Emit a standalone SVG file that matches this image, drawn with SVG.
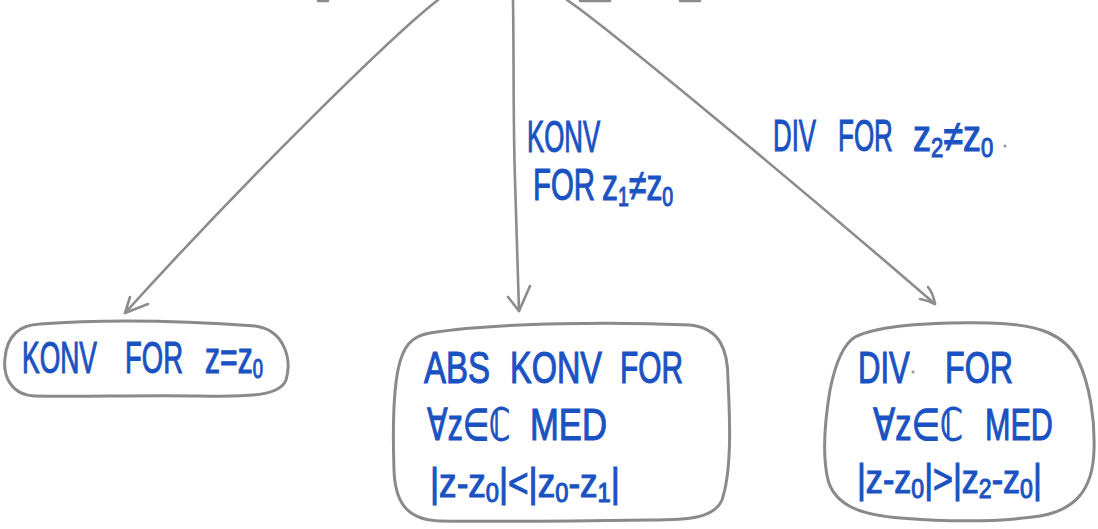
<svg xmlns="http://www.w3.org/2000/svg" width="1098" height="529" viewBox="0 0 1098 529">
  <style>
    .hand { font-family: "Liberation Sans", "DejaVu Sans", sans-serif; font-size: 44px; fill: #1b52c2; stroke: #1b52c2; stroke-width: 1.1; }
    .small { font-size: 40px; }
    .sub { font-size: 27px; }
    .edge { fill: none; stroke: #8c8c8c; stroke-width: 2.6; stroke-linecap: round; stroke-linejoin: round; }
    .box { fill: #ffffff; stroke: #8a8a8a; stroke-width: 3; }
    .speck { fill: #9a9a9a; }
  </style>
  <rect width="1098" height="529" fill="#ffffff"/>

  <!-- stray marks along the top edge -->
  <g id="top-marks" class="edge">
    <path d="M 318,1 L 328,1"/>
    <path d="M 580,1 L 610,1"/>
    <path d="M 680,1 L 700,1"/>
  </g>

  <g id="connectors">
    <!-- left: to KONV FOR z=z0 -->
    <path class="edge" d="M 438,0 C 395,33 250,175 125,313"/>
    <path class="edge" d="M 130,297 L 125,313 L 148,304"/>
    <!-- middle: to ABS KONV -->
    <path class="edge" d="M 513,0 C 514,60 513,120 515,180 C 517,240 518,280 519,311"/>
    <path class="edge" d="M 508,297 L 519,311 L 530,286"/>
    <!-- right: to DIV -->
    <path class="edge" d="M 567,0 C 600,22 780,170 935,304"/>
    <path class="edge" d="M 920,299 C 926,300 931,302 935,304 C 934,298 932,292 928,287"/>
  </g>

  <!-- lettering is narrow, so each word is squeezed horizontally -->
  <g id="edge-labels">
    <text class="hand" transform="translate(527,152) scale(0.59,1)" textLength="124" lengthAdjust="spacingAndGlyphs">KONV</text>
    <text class="hand" transform="translate(533,200) scale(0.66,1)" textLength="94" lengthAdjust="spacingAndGlyphs">FOR</text>
    <text class="hand" transform="translate(602,200) scale(0.72,1)" textLength="99" lengthAdjust="spacingAndGlyphs">z<tspan class="sub" dy="6">1</tspan><tspan dy="-6">≠z</tspan><tspan class="sub" dy="6">0</tspan></text>
    <text class="hand" transform="translate(773,151) scale(0.59,1)" textLength="73" lengthAdjust="spacingAndGlyphs">DIV</text>
    <text class="hand" transform="translate(838,151) scale(0.59,1)" textLength="93" lengthAdjust="spacingAndGlyphs">FOR</text>
    <text class="hand" transform="translate(913,151) scale(0.81,1)" textLength="99" lengthAdjust="spacingAndGlyphs">z<tspan class="sub" dy="6">2</tspan><tspan dy="-6">≠z</tspan><tspan class="sub" dy="6">0</tspan></text>
    <circle class="speck" cx="1005" cy="146" r="1.6"/>
  </g>

  <g id="node-konv">
    <path class="box" d="M 40,324 C 120,318 200,322 255,326 C 285,330 292,360 286,380 C 280,396 250,397 200,396 C 140,395 80,397 35,396 C 10,395 3,375 5,358 C 7,335 20,325 40,324 Z"/>
    <text class="hand" transform="translate(22,373) scale(0.6,1)" textLength="125" lengthAdjust="spacingAndGlyphs">KONV</text>
    <text class="hand" transform="translate(125,373) scale(0.62,1)" textLength="93.5" lengthAdjust="spacingAndGlyphs">FOR</text>
    <text class="hand" transform="translate(205,373) scale(0.69,1)" textLength="84" lengthAdjust="spacingAndGlyphs">z=z<tspan class="sub" dy="5">0</tspan></text>
  </g>

  <g id="node-abs-konv">
    <path class="box" d="M 430,333 C 500,322 620,322 690,325 C 720,328 728,350 728,380 C 730,420 732,470 722,500 C 714,518 690,520 650,520 C 580,521 500,522 440,521 C 405,520 395,500 394,470 C 393,440 392,400 398,370 C 403,345 412,336 430,333 Z"/>
    <text class="hand" transform="translate(424,383) scale(0.75,1)" textLength="88" lengthAdjust="spacingAndGlyphs">ABS</text>
    <text class="hand" transform="translate(510,383) scale(0.74,1)" textLength="124.3" lengthAdjust="spacingAndGlyphs">KONV</text>
    <text class="hand" transform="translate(620,383) scale(0.68,1)" textLength="92.6" lengthAdjust="spacingAndGlyphs">FOR</text>
    <text class="hand" transform="translate(427,440) scale(0.77,1)" textLength="108" lengthAdjust="spacingAndGlyphs">∀z∈ℂ</text>
    <text class="hand" transform="translate(530,440) scale(0.79,1)" textLength="97.5" lengthAdjust="spacingAndGlyphs">MED</text>
    <text class="hand small" transform="translate(430,497) scale(0.9,1)" textLength="211" lengthAdjust="spacingAndGlyphs">|z-z<tspan class="sub" dy="5">0</tspan><tspan dy="-5">|&lt;|z</tspan><tspan class="sub" dy="5">0</tspan><tspan dy="-5">-z</tspan><tspan class="sub" dy="5">1</tspan><tspan dy="-5">|</tspan></text>
  </g>

  <g id="node-div">
    <path class="box" d="M 855,337 C 880,325 930,322 990,323 C 1040,324 1065,335 1078,360 C 1090,385 1095,420 1094,450 C 1093,490 1075,510 1040,516 C 1000,522 950,522 900,518 C 860,515 835,505 828,480 C 822,455 825,420 830,390 C 835,365 842,345 855,337 Z"/>
    <text class="hand" transform="translate(858,383) scale(0.71,1)" textLength="73" lengthAdjust="spacingAndGlyphs">DIV</text>
    <circle class="speck" cx="913" cy="372" r="1.6"/>
    <text class="hand" transform="translate(945,383) scale(0.73,1)" textLength="93" lengthAdjust="spacingAndGlyphs">FOR</text>
    <text class="hand" transform="translate(873,440) scale(0.83,1)" textLength="108" lengthAdjust="spacingAndGlyphs">∀z∈ℂ</text>
    <text class="hand" transform="translate(985,440) scale(0.7,1)" textLength="97" lengthAdjust="spacingAndGlyphs">MED</text>
    <text class="hand small" transform="translate(857,493) scale(0.88,1)" textLength="210" lengthAdjust="spacingAndGlyphs">|z-z<tspan class="sub" dy="5">0</tspan><tspan dy="-5">|&gt;|z</tspan><tspan class="sub" dy="5">2</tspan><tspan dy="-5">-z</tspan><tspan class="sub" dy="5">0</tspan><tspan dy="-5">|</tspan></text>
  </g>
</svg>
